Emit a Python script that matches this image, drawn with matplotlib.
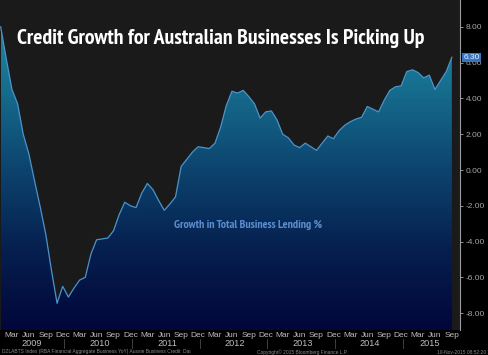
"""
Bloomberg-style chart: credit growth for Australian businesses (YoY %), 2009-2015.
"""

import numpy as np
import matplotlib
matplotlib.use("Agg")
import matplotlib.pyplot as plt
from matplotlib import font_manager
from matplotlib.font_manager import FontProperties
from matplotlib.colors import LinearSegmentedColormap
from matplotlib.patches import Polygon
from matplotlib.transforms import blended_transform_factory

# -----------------------------------------------------------------------------
# Data: monthly growth in total business lending (%), Jan 2009 - Sep 2015
# -----------------------------------------------------------------------------
start_year = 2009
growth = [
    8.0, 6.2, 4.5, 3.7, 2.0, 0.9, -0.6, -2.05, -3.6, -5.6, -7.45, -6.5,      # 2009
    -7.1, -6.6, -6.15, -6.0, -4.7, -3.9, -3.85, -3.8, -3.4, -2.5, -1.8, -2.0,  # 2010
    -2.1, -1.3, -0.75, -1.1, -1.7, -2.25, -1.9, -1.5, 0.2, 0.6, 1.0, 1.3,     # 2011
    1.25, 1.2, 1.5, 2.4, 3.6, 4.4, 4.3, 4.45, 4.1, 3.7, 2.9, 3.25,            # 2012
    3.3, 2.8, 2.0, 1.8, 1.4, 1.25, 1.5, 1.3, 1.1, 1.5, 1.9, 1.75,             # 2013
    2.2, 2.5, 2.7, 2.85, 2.95, 3.55, 3.4, 3.25, 3.9, 4.45, 4.65, 4.7,         # 2014
    5.5, 5.6, 5.45, 5.15, 5.3, 4.5, 5.0, 5.5, 6.3,                          # 2015
]
month_names = ["Mar", "Jun", "Sep", "Dec"]
years = [2009, 2010, 2011, 2012, 2013, 2014, 2015]
y_ticks = [-8, -6, -4, -2, 0, 2, 4, 6, 8]
last_value = growth[-1]

title = "Credit Growth for Australian Businesses Is Picking Up"
series_label = "Growth in Total Business Lending %"
footer_left = "DZLABTS Index (RBA Financial Aggregate Business YoY) Aussie Business Credit  Dai"
footer_mid = "Copyright\u00a9 2015 Bloomberg Finance L.P."
footer_right = "10-Nov-2015 08:52:20"

# -----------------------------------------------------------------------------
# Style
# -----------------------------------------------------------------------------
W, H, DPI = 488, 355, 100
plt.rcParams["font.family"] = ["Liberation Sans", "DejaVu Sans"]


def bold_font():
    """Prefer a condensed bold face (Bloomberg titles are narrow), else Liberation Sans Bold."""
    for f in font_manager.fontManager.ttflist:
        if "Narrow" in f.name and f.weight in ("bold", 700):
            return FontProperties(fname=f.fname)
    for f in font_manager.fontManager.ttflist:
        if "Condensed" in f.fname and "Bold" in f.fname and "Oblique" not in f.fname:
            return FontProperties(fname=f.fname)
    return FontProperties(family="Liberation Sans", weight="bold")


TITLE_FONT = bold_font()

FIG_BG = "#000000"
PLOT_BG = "#1b1a1a"
LINE_COLOR = "#4b93cc"
TICK_COLOR = "#a6a6a6"
gradient = LinearSegmentedColormap.from_list(
    "bbg", ["#02063a", "#06204f", "#0d4670", "#17708f", "#2292ad"])

x = np.arange(len(growth))
y_min, y_max = -8.94, 9.5
x_min, x_max = -0.12, 81.44

fig = plt.figure(figsize=(W / DPI, H / DPI), dpi=DPI, facecolor=FIG_BG)
ax = fig.add_axes([0, 25 / H, 460 / W, 330 / H])
ax.set_facecolor(PLOT_BG)

# gradient area under the curve
verts = [(x[0], y_min)] + list(zip(x, growth)) + [(x[-1], y_min)]
area = Polygon(verts, closed=True, facecolor="none", edgecolor="none")
ax.add_patch(area)
grad = np.linspace(0, 1, 256).reshape(-1, 1)
img = ax.imshow(grad, cmap=gradient, origin="lower", aspect="auto",
                extent=[x[0], x[-1], y_min, y_max], zorder=1)
img.set_clip_path(area)
ax.plot(x, growth, color=LINE_COLOR, linewidth=0.9, zorder=2)
ax.set_xlim(x_min, x_max)
ax.set_ylim(y_min, y_max)

# right-hand value axis
for side in ["top", "bottom", "left"]:
    ax.spines[side].set_visible(False)
ax.spines["right"].set_color("#9a9a9a")
ax.spines["right"].set_linewidth(0.8)
ax.yaxis.tick_right()
ax.set_yticks(y_ticks)
ax.set_yticklabels([f"{v:.2f}" for v in y_ticks])
ax.tick_params(axis="y", colors=TICK_COLOR, labelsize=6, length=2.5, width=0.6, pad=1.5)

# month ticks along the bottom
month_pos, month_lab = [], []
for i in range(len(growth)):
    if i % 3 == 2:
        month_pos.append(i)
        month_lab.append(month_names[(i // 3) % 4])
ax.set_xticks(month_pos)
ax.set_xticklabels(month_lab)
ax.tick_params(axis="x", colors="#bdbdbd", labelsize=6, length=0, pad=1.5)

# year labels and separators
tr = blended_transform_factory(ax.transData, fig.transFigure)
for k, yr in enumerate(years):
    months = [i for i in range(len(growth)) if i // 12 == k]
    ax.text((months[0] + months[-1]) / 2, (H - 344) / H, str(yr), transform=tr,
            ha="center", va="center", color="#bdbdbd", fontsize=6.6, clip_on=False)
    if k > 0:
        ax.plot([12 * k - 0.7] * 2, [(H - 348) / H, (H - 339) / H], transform=tr,
                color="#4a4a4a", linewidth=0.6, clip_on=False)

# last value box
trv = blended_transform_factory(ax.transAxes, ax.transData)
ax.text(1.008, last_value, f"{last_value:.2f}", transform=trv, ha="left", va="center",
        color="#e8f0ff", fontsize=6, clip_on=False, zorder=5,
        bbox=dict(boxstyle="square,pad=0.15", facecolor="#3576c4", edgecolor="none"))

# title: fit to the reference width (17..427 px)
t = ax.text(17 / 460, 1 - 38 / 330, title, transform=ax.transAxes, ha="left", va="center",
            color="white", fontproperties=TITLE_FONT, fontsize=14, zorder=6)
renderer = fig.canvas.get_renderer()
w = t.get_window_extent(renderer).width
t.set_fontsize(14 * 410 / w)

s = ax.text(43.8, -3.07, series_label, ha="center", va="center", color="#5b8fd0",
            fontproperties=TITLE_FONT, fontsize=8.5, zorder=6)
w = s.get_window_extent(renderer).width
s.set_fontsize(min(8.5, 8.5 * 158 / w))

# footer
fig.text(2 / W, (H - 352) / H, footer_left, color="#8a8a8a", fontsize=3.5, va="center")
fig.text(302 / W, (H - 352) / H, footer_mid, color="#8a8a8a", fontsize=3.5, va="center", ha="center")
fig.text(486 / W, (H - 352) / H, footer_right, color="#8a8a8a", fontsize=3.5, va="center", ha="right")

fig.savefig("out.png", dpi=DPI, facecolor=FIG_BG)
plt.close(fig)
